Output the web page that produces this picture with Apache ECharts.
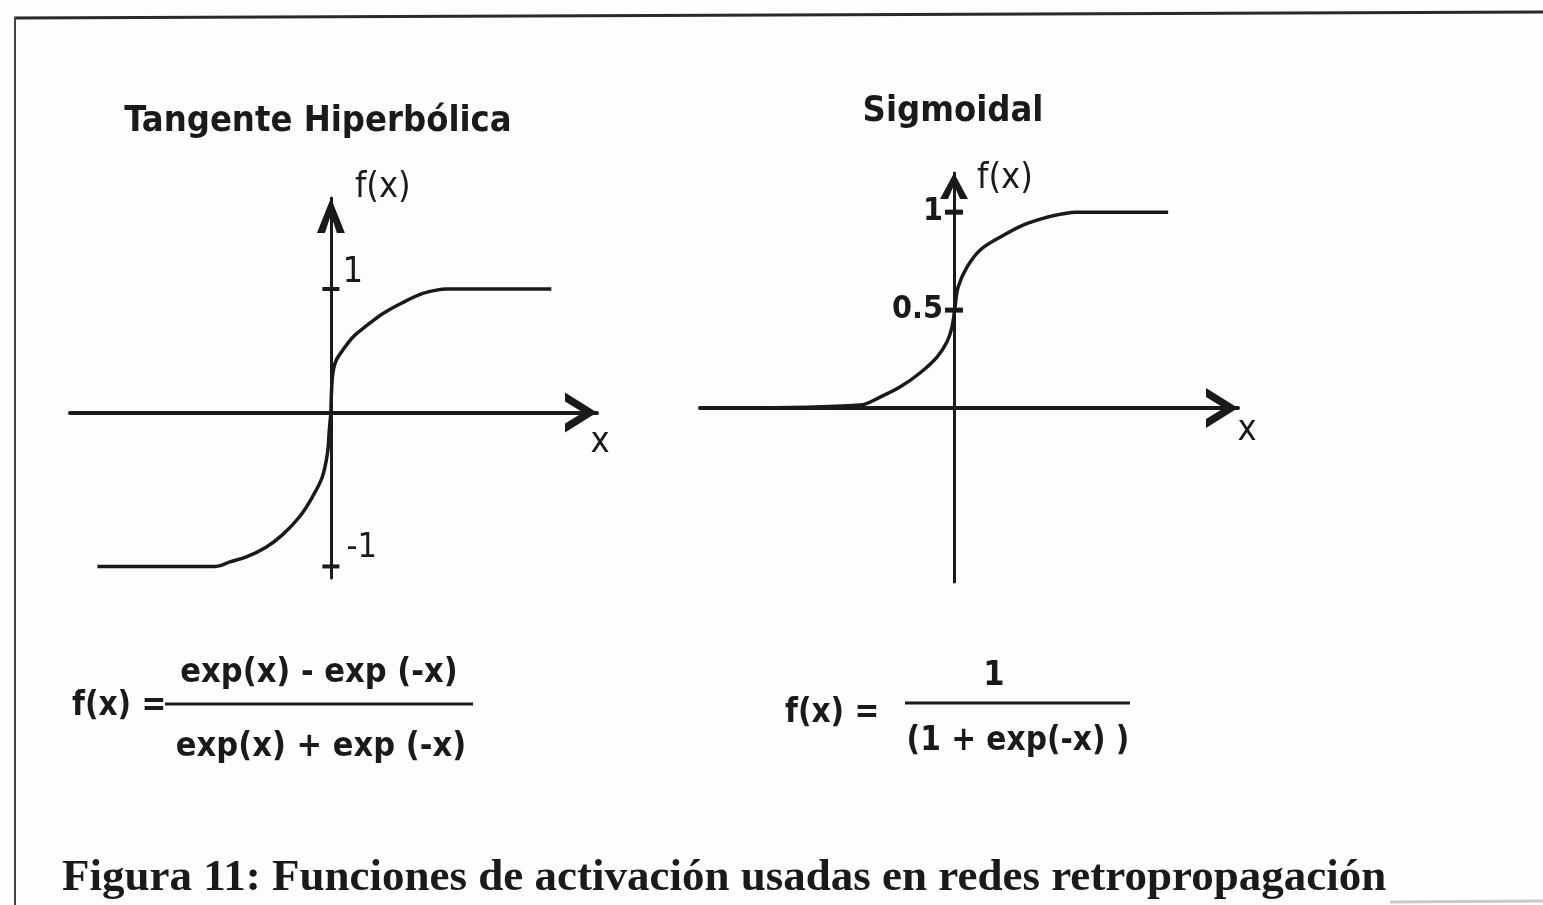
<!DOCTYPE html>
<html>
<head>
<meta charset="utf-8">
<script src="https://cdn.jsdelivr.net/npm/echarts@6/dist/echarts.min.js"></script>
<style>
html, body { margin: 0; padding: 0; background: #fdfdfb; }
#chart { width: 1543px; height: 905px; }
</style>
</head>
<body>
<div id="chart"></div>
<script>
// ---------- texts ----------
const tanhTitle = 'Tangente Hiperbólica';
const sigTitle = 'Sigmoidal';
const captionText = 'Figura 11: Funciones de activación usadas en redes retropropagación';
const yAxisName = 'f(x)';
const xAxisName = 'x';
const tanhFormulaLeft = 'f(x) =';
const tanhNumerator = 'exp(x) - exp (-x)';
const tanhDenominator = 'exp(x) + exp (-x)';
const sigFormulaLeft = 'f(x) =';
const sigNumerator = '1';
const sigDenominator = '(1 + exp(-x) )';

// ---------- tanh curve ----------
// x < 0 branch (drawn in the lower half)
const tanhNegX = [-8.95, -4.46, -4.20, -3.90, -3.24, -2.47, -1.86, -1.21, -0.71, -0.33, -0.13, -0.06, 0];
const tanhNegY = [-1.0, -1.0, -0.993, -0.972, -0.938, -0.873, -0.795, -0.679, -0.549, -0.419, -0.263, -0.114, 0];
// x > 0 branch (drawn in the upper half)
const tanhPosX = [0, 0.02, 0.05, 0.11, 0.22, 0.46, 0.84, 1.38, 2.00, 2.76, 3.52, 4.10, 4.40, 8.45];
const tanhPosY = [0, 0.15, 0.27, 0.36, 0.43, 0.506, 0.61, 0.705, 0.802, 0.891, 0.964, 0.993, 1.0, 1.0];
const tanhTicksUp = [1];
const tanhTicksDown = [-1];

// ---------- sigmoid curve ----------
const sigX = [-8.62, -3.70, -2.91, -2.13, -1.34, -0.67, -0.28, -0.08, 0.04, 0.16, 0.51, 1.02, 1.81, 2.72, 3.66, 4.30, 4.80, 8.43];
const sigY = [0, 0.015, 0.056, 0.107, 0.179, 0.260, 0.337, 0.413, 0.515, 0.617, 0.719, 0.806, 0.872, 0.934, 0.974, 0.992, 1.0, 1.0];
const sigTicks = [0.5, 1];

// ---------- helpers ----------
const zip = (xs, ys) => xs.map((x, i) => [x, ys[i]]);
const INK = '#1a1a1a';
const NARROW = '"Liberation Sans Narrow", "DejaVu Sans Condensed", "Arial Narrow", "Roboto", sans-serif';
const SERIF = '"Liberation Serif", "DejaVu Serif", serif';

const arrowX = 'path://M0,32 L20,0 L40,32 L31,32 L20,14 L9,32 Z';
const arrowY = 'path://M0,35 L14,0 L28,35 L20,35 L14,17 L8,35 Z';
const arrowYSmall = 'path://M0,26 L14,0 L28,26 L20,26 L14,12 L8,26 Z';

const plainAxis = {
  axisTick: { show: false },
  splitLine: { show: false },
  axisLabel: { show: false }
};

const tickLabel = (extra) => Object.assign({
  show: true,
  color: INK,
  opacity: 1,
  fontFamily: NARROW,
  formatter: p => String(p.value[1])
}, extra);

const chart = echarts.init(document.getElementById('chart'));

const option = {
  backgroundColor: '#fdfdfb',
  animation: false,
  title: [
    { text: tanhTitle, left: 318, top: 104, textAlign: 'center', padding: 0,
      textStyle: { fontFamily: NARROW, fontWeight: 'bold', fontSize: 36, lineHeight: 36, color: INK } },
    { text: sigTitle, left: 953, top: 94, textAlign: 'center', padding: 0,
      textStyle: { fontFamily: NARROW, fontWeight: 'bold', fontSize: 36, lineHeight: 36, color: INK } },
    { text: captionText, left: 62, top: 855, padding: 0,
      textStyle: { fontFamily: SERIF, fontWeight: 'bold', fontSize: 45, lineHeight: 46, color: INK } }
  ],
  grid: [
    { left: 70, top: 198, width: 527, height: 214.5 },
    { left: 70, top: 412.5, width: 527, height: 165.5 },
    { left: 700, top: 173, width: 538, height: 409 }
  ],
  xAxis: [
    { type: 'value', gridIndex: 0, min: -10, max: 10.2, ...plainAxis,
      axisLine: { show: true, lineStyle: { color: INK, width: 4 },
        symbol: ['none', arrowX], symbolSize: [40, 32], symbolOffset: [0, -16] },
      name: xAxisName, nameLocation: 'end', nameGap: 3,
      nameTextStyle: { fontFamily: NARROW, fontSize: 36, lineHeight: 36, color: INK,
        align: 'center', verticalAlign: 'top', padding: [12, 0, 0, 0] } },
    { type: 'value', gridIndex: 1, min: -10, max: 10.2, ...plainAxis,
      axisLine: { show: false } },
    { type: 'value', gridIndex: 2, min: -10, max: 11.18, ...plainAxis,
      axisLine: { show: true, lineStyle: { color: INK, width: 4 },
        symbol: ['none', arrowX], symbolSize: [40, 32], symbolOffset: [0, -16] },
      name: xAxisName, nameLocation: 'end', nameGap: 9,
      nameTextStyle: { fontFamily: NARROW, fontSize: 36, lineHeight: 36, color: INK,
        align: 'center', verticalAlign: 'top', padding: [5, 0, 0, 0] } }
  ],
  yAxis: [
    { type: 'value', gridIndex: 0, min: 0, max: 1.737, ...plainAxis,
      axisLine: { show: true, onZero: true, lineStyle: { color: INK, width: 3 },
        symbol: ['none', arrowY], symbolSize: [28, 35], symbolOffset: [0, -17.5] },
      name: yAxisName, nameLocation: 'end', nameGap: 10,
      nameTextStyle: { fontFamily: NARROW, fontSize: 36, lineHeight: 36, color: INK,
        align: 'left', verticalAlign: 'middle', padding: [0, 0, 0, 24] } },
    { type: 'value', gridIndex: 1, min: -1.075, max: 0, ...plainAxis,
      axisLine: { show: true, onZero: true, lineStyle: { color: INK, width: 3 } } },
    { type: 'value', gridIndex: 2, min: -0.888, max: 1.2, ...plainAxis,
      axisLine: { show: true, onZero: true, lineStyle: { color: INK, width: 3 },
        symbol: ['none', arrowYSmall], symbolSize: [28, 26], symbolOffset: [0, -13] },
      name: yAxisName, nameLocation: 'end', nameGap: -6,
      nameTextStyle: { fontFamily: NARROW, fontSize: 36, lineHeight: 36, color: INK,
        align: 'left', verticalAlign: 'middle', padding: [0, 0, 0, 23] } }
  ],
  series: [
    { type: 'line', xAxisIndex: 0, yAxisIndex: 0, data: zip(tanhPosX, tanhPosY),
      showSymbol: false, smooth: 0.35, lineStyle: { color: INK, width: 3.5 }, z: 5 },
    { type: 'line', xAxisIndex: 1, yAxisIndex: 1, data: zip(tanhNegX, tanhNegY),
      showSymbol: false, smooth: 0.35, lineStyle: { color: INK, width: 3.5 }, z: 5 },
    { type: 'line', xAxisIndex: 2, yAxisIndex: 2, data: zip(sigX, sigY),
      showSymbol: false, smooth: 0.35, lineStyle: { color: INK, width: 3.5 }, z: 5 },
    { type: 'scatter', xAxisIndex: 0, yAxisIndex: 0, data: tanhTicksUp.map(v => [0, v]),
      symbol: 'rect', symbolSize: [17, 4], itemStyle: { color: INK, opacity: 1 }, z: 6,
      label: tickLabel({ position: 'right', distance: 3, offset: [0, -16], fontSize: 36 }) },
    { type: 'scatter', xAxisIndex: 1, yAxisIndex: 1, data: tanhTicksDown.map(v => [0, v]),
      symbol: 'rect', symbolSize: [17, 4], itemStyle: { color: INK, opacity: 1 }, z: 6,
      label: tickLabel({ position: 'right', distance: 7, offset: [0, -18], fontSize: 34 }) },
    { type: 'scatter', xAxisIndex: 2, yAxisIndex: 2, data: sigTicks.map(v => [0, v]),
      symbol: 'rect', symbolSize: [18, 5], itemStyle: { color: INK, opacity: 1 }, z: 6,
      label: tickLabel({ position: 'left', distance: 2, offset: [0, 0], fontSize: 32, fontWeight: 'bold' }) }
  ],
  graphic: [
    // frame of the scanned figure
    { type: 'line', shape: { x1: 14, y1: 18, x2: 1543, y2: 12 }, style: { stroke: '#2a2a2a', lineWidth: 3 }, silent: true },
    { type: 'line', shape: { x1: 15, y1: 17, x2: 15, y2: 905 }, style: { stroke: '#444', lineWidth: 2 }, silent: true },
    { type: 'line', shape: { x1: 1390, y1: 902, x2: 1543, y2: 901 }, style: { stroke: '#c8c8c8', lineWidth: 3 }, silent: true },
    // tanh formula
    { type: 'text', x: 72, y: 706, style: { text: tanhFormulaLeft, fill: INK, fontFamily: NARROW, fontWeight: 'bold', fontSize: 33, textAlign: 'left', textVerticalAlign: 'middle' } },
    { type: 'text', x: 319, y: 673, style: { text: tanhNumerator, fill: INK, fontFamily: NARROW, fontWeight: 'bold', fontSize: 34, textAlign: 'center', textVerticalAlign: 'middle' } },
    { type: 'line', shape: { x1: 165, y1: 704, x2: 473, y2: 704 }, style: { stroke: INK, lineWidth: 3 }, silent: true },
    { type: 'text', x: 321, y: 747, style: { text: tanhDenominator, fill: INK, fontFamily: NARROW, fontWeight: 'bold', fontSize: 34, textAlign: 'center', textVerticalAlign: 'middle' } },
    // sigmoid formula
    { type: 'text', x: 785, y: 713, style: { text: sigFormulaLeft, fill: INK, fontFamily: NARROW, fontWeight: 'bold', fontSize: 33, textAlign: 'left', textVerticalAlign: 'middle' } },
    { type: 'text', x: 994, y: 676, style: { text: sigNumerator, fill: INK, fontFamily: NARROW, fontWeight: 'bold', fontSize: 34, textAlign: 'center', textVerticalAlign: 'middle' } },
    { type: 'line', shape: { x1: 905, y1: 703, x2: 1130, y2: 703 }, style: { stroke: INK, lineWidth: 3 }, silent: true },
    { type: 'text', x: 1018, y: 741, style: { text: sigDenominator, fill: INK, fontFamily: NARROW, fontWeight: 'bold', fontSize: 33, textAlign: 'center', textVerticalAlign: 'middle' } }
  ]
};

chart.setOption(option);
</script>
</body>
</html>
